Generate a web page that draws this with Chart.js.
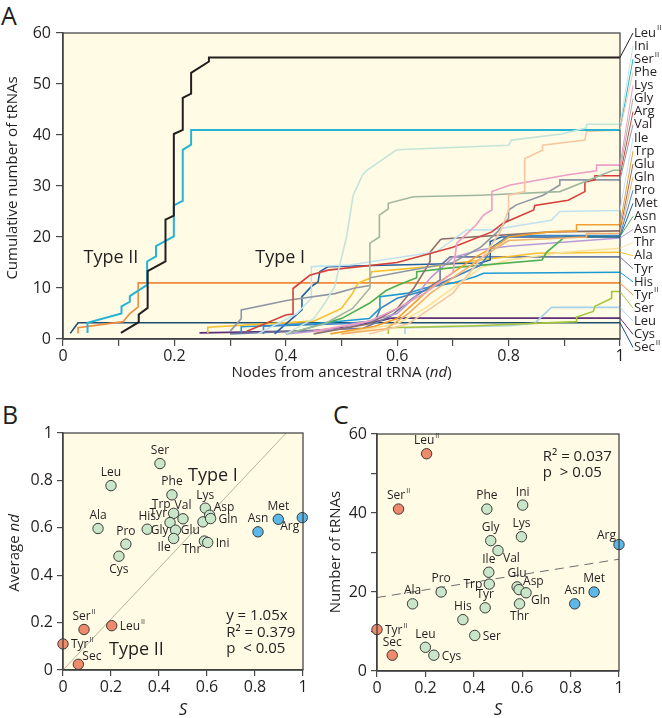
<!DOCTYPE html>
<html>
<head>
<meta charset="utf-8">
<script src="https://cdn.jsdelivr.net/npm/chart.js@4.4.1/dist/chart.umd.min.js"></script>
<style>
  body { margin: 0; background: #fff; width: 662px; height: 718px; position: relative; overflow: hidden; font-family: "Open Sans", sans-serif; }
  canvas { position: absolute; }
  .letter { position: absolute; font-size: 25px; color: #231f20; line-height: 1; }
</style>
</head>
<body>
<div class="letter" style="left:1px;top:3px">A</div>
<div class="letter" style="left:2px;top:402px">B</div>
<div class="letter" style="left:333px;top:402px">C</div>
<canvas id="chartA" width="662" height="385" style="left:0;top:0;width:662px;height:385px"></canvas>
<canvas id="chartB" width="320" height="333" style="left:0;top:385px;width:320px;height:333px"></canvas>
<canvas id="chartC" width="342" height="333" style="left:320px;top:385px;width:342px;height:333px"></canvas>
<script>
// ---- Panel A: cumulative tRNAs vs nodes from ancestral tRNA (nd) ----
const labelsA = ["Leu^II", "Ini", "Ser^II", "Phe", "Lys", "Gly", "Arg", "Val", "Ile", "Trp", "Glu", "Gln", "Pro",
  "Met", "Asn", "Asn", "Thr", "Ala", "Tyr", "His", "Tyr^II", "Ser", "Leu", "Cys", "Sec^II"];

const leuII = [[0.104,1.2],[0.136,3.3],[0.136,4.8],[0.152,6.1],[0.152,13.3],[0.184,15.2],[0.184,23.4],[0.199,24.2],[0.199,40.2],[0.215,41],[0.215,47.3],[0.23,48.1],[0.23,52.2],[0.262,54.4],[0.262,55.2],[1,55.2]];
const ini = [[0.4,1],[0.45,4],[0.47,7],[0.488,10.3],[0.494,13.2],[0.509,20],[0.521,28.2],[0.538,32.2],[0.545,33],[0.599,37.1],[0.8,38],[0.805,39],[0.895,40.2],[0.94,41.4],[0.94,42.1],[1,42.1]];
const serII = [[0.044,1.2],[0.044,3.2],[0.105,5],[0.105,6.4],[0.12,7.3],[0.12,8.4],[0.151,10.6],[0.151,15.2],[0.167,16.2],[0.167,18.2],[0.199,20.1],[0.199,26.2],[0.215,27.1],[0.215,37.1],[0.23,38.1],[0.23,41],[1,41]];
const phe = [[0.55,1],[0.62,3],[0.66,6],[0.7,9],[0.73,13],[0.76,17],[0.785,21],[0.8,25.3],[0.8,28.2],[0.829,28.9],[0.829,35.4],[0.861,37],[0.861,38],[0.937,39],[0.94,40.7],[1,41]];
const lys = [[0.45,1.5],[0.55,3.5],[0.6,6],[0.65,9],[0.7,13],[0.707,18.8],[0.742,22.4],[0.755,24.3],[0.77,25.3],[0.77,28.9],[0.803,30.2],[0.907,32.2],[0.958,33],[0.958,34.1],[1,34.1]];
const gly = [[0.4,1],[0.47,3],[0.52,6],[0.551,10],[0.551,18.8],[0.568,20],[0.568,24.3],[0.584,25.5],[0.584,26.6],[0.629,27.9],[0.749,28.2],[0.892,28.9],[0.988,33.1],[1,33.1]];
const arg = [[0.33,1.5],[0.4,4.7],[0.413,4.9],[0.413,9.9],[0.443,12.5],[0.476,13.5],[0.6,15],[0.7,18],[0.77,21],[0.79,22.7],[0.845,25.3],[0.847,26.2],[0.907,27.2],[0.937,28.9],[0.937,30.8],[0.955,31.2],[0.955,32],[1,32]];
const val = [[0.3,1.5],[0.32,4],[0.32,5.7],[0.404,7.6],[0.488,8.9],[0.524,10],[0.551,10.5],[0.551,12],[0.6,13],[0.7,15],[0.75,18],[0.78,21],[0.8,23.7],[0.8,25.3],[0.814,26.3],[0.862,28.2],[0.892,30.2],[0.892,31.2],[1,31.2]];
const ile = [[0.35,1],[0.42,5],[0.446,8],[0.446,14.2],[0.515,14.5],[0.67,17.1],[0.725,21.4],[0.77,21.4],[0.877,23.3],[0.892,25],[1,25.2]];
const trp = [[0.48,1],[0.56,2.5],[0.6,4],[0.63,7],[0.66,10],[0.7,13],[0.74,16],[0.785,18.8],[0.8,20],[0.872,21],[0.922,21.2],[0.922,22.4],[1,22.4]];
const glu = [[0.45,1],[0.55,3],[0.6,6],[0.63,10],[0.65,13.5],[0.659,15.2],[0.659,17],[0.677,19.4],[0.68,19.6],[0.877,21],[1,21.2]];
const gln = [[0.5,1],[0.58,2],[0.62,5],[0.66,9],[0.7,12],[0.74,15],[0.78,18],[0.8,19.3],[0.94,20],[0.94,20.7],[1,20.7]];
const pro = [[0.36,1],[0.36,2.5],[0.5,3],[0.56,3.5],[0.57,6],[0.6,8],[0.65,9.5],[0.7,12],[0.75,14.5],[0.76,16],[0.77,18],[0.79,19.5],[0.8,20.3],[1,20.3]];
const met = [[0.38,1],[0.429,5.7],[0.429,8.3],[0.446,10.3],[0.458,11.2],[0.461,13.2],[0.476,14.2],[0.52,14.3],[0.749,14.9],[0.767,15.5],[0.767,19.1],[0.787,20],[1,20]];
const asn1 = [[0.42,1.5],[0.5,4],[0.55,7],[0.58,9.5],[0.6,10.5],[0.635,12],[0.635,13.2],[0.7,14],[0.86,15.5],[0.868,17],[0.892,19.2],[0.9,20],[1,20.1]];
const asn2 = [[0.4,1],[0.5,2],[0.6,5],[0.63,8],[0.66,12],[0.7,16],[0.75,17.5],[0.8,18.2],[1,19.8]];
const thr = [[0.5,1],[0.6,3],[0.65,6],[0.7,10],[0.75,14],[0.8,15.5],[0.9,17],[1,17.8]];
const ala = [[0.26,1.2],[0.26,2.3],[0.45,3.5],[0.5,6],[0.52,9],[0.53,11],[0.551,11.9],[0.554,13.2],[0.66,14.2],[0.749,15.5],[0.85,16.8],[1,17]];
const tyr = [[0.3,1],[0.539,2.1],[0.587,4.4],[0.628,8],[0.677,11.6],[0.677,14.4],[0.695,16.1],[1,16.1]];
const his = [[0.32,1.2],[0.32,2.4],[0.45,3],[0.55,4],[0.569,6],[0.569,8.3],[0.62,9],[0.65,10],[0.7,11],[0.74,12.2],[0.755,12.9],[1,13.1]];
const tyrII = [[0.027,1.1],[0.027,2.2],[0.108,3.4],[0.12,5],[0.135,6.3],[0.135,11],[1,11]];
const ser = [[0.584,1],[0.584,2.2],[0.74,2.6],[0.922,3.4],[0.922,4.3],[0.952,5.4],[0.955,6.4],[0.985,8],[0.985,9.3],[1,9.3]];
const leu = [[0.614,1],[0.614,2.2],[0.8,2.6],[0.847,3.1],[0.877,6.2],[1,6.2]];
const cys = [[0.245,1.2],[0.45,1.6],[0.515,2.4],[0.575,3.7],[0.59,4.1],[1,4.1]];
const secII = [[0.013,1.1],[0.027,3.2],[1,3.2]];

const seriesA = [leuII, ini, serII, phe, lys, gly, arg, val, ile, trp, glu, gln, pro, met, asn1, asn2, thr, ala, tyr, his, tyrII, ser, leu, cys, secII];
const colorsA = ["#231f20", "#c3e5d9", "#27b4d4", "#f5c8a2", "#ec9ec4", "#a0b79f", "#d6403a", "#8e98a5", "#c2e2f0", "#f0a030",
  "#8c6e6e", "#f3b06a", "#3d86c8", "#245f9e", "#4caf50", "#b99ad6", "#f9e39a", "#f6c02e", "#6b78a0", "#1c9ad6",
  "#ef8b3a", "#a5c63b", "#a9d0ea", "#5e2f78", "#1f4e6e"];

// ---- Panels B and C: per amino acid ----
const namesBC = ["Ser", "Leu", "Phe", "Lys", "Trp", "Val", "Tyr", "Gly", "Ile", "His", "Ala", "Pro", "Cys", "Glu", "Asp", "Gln",
  "Thr", "Ini", "Asn", "Met", "Arg", "Ser^II", "Leu^II", "Tyr^II", "Sec"];
const groupBC = ["I","I","I","I","I","I","I","I","I","I","I","I","I","I","I","I","I","I","M","M","M","II","II","II","II"];
const sB = [0.404, 0.2, 0.454, 0.593, 0.461, 0.5, 0.446, 0.469, 0.461, 0.351, 0.146, 0.262, 0.233, 0.583, 0.611, 0.615,
  0.589, 0.603, 0.8125, 0.897, 0.997, 0.0875, 0.203, 0, 0.064];
const ndB = [0.871, 0.778, 0.739, 0.683, 0.661, 0.638, 0.622, 0.59, 0.555, 0.594, 0.597, 0.531, 0.48, 0.625, 0.653, 0.639,
  0.544, 0.538, 0.583, 0.636, 0.643, 0.171, 0.187, 0.11, 0.024];
const sC = [0.404, 0.2, 0.454, 0.597, 0.464, 0.5, 0.447, 0.47, 0.462, 0.355, 0.147, 0.265, 0.235, 0.579, 0.587, 0.616,
  0.589, 0.602, 0.817, 0.897, 1.0, 0.089, 0.205, 0, 0.063];
const countC = [9, 6, 41, 34, 22, 30.5, 16, 33, 25, 13, 17, 20, 4, 21.3, 20.6, 19.8, 17, 42, 17, 20, 32, 41, 55, 10.5, 4];
const lineB = [[0, 0], [0.93, 1]];
const lineC = [[0, 18.6], [1, 28.3]];

// label side for each point (n, s, e, w, ne, nw, se, sw)
const sideB = ["n","n","n","n","nw","n","nw","w","sw","n","n","n","s","sw","ne","e","sw","e","n","n","sw","n","e","e","ne"];
const sideC = ["e","n","n","n","w","se","n","n","n","n","n","n","e","n","ne","se","s","n","n","n","nw","n","n","e","n"];
const groupColors = { I: "#c9e6c8", M: "#5bb8e8", II: "#ef8a6c" };

const INK = "#231f20";
const FONT = '"Open Sans", sans-serif';
const PLOT_BG = "#fffbe5";
Chart.defaults.font.family = FONT;
Chart.defaults.color = INK;

const fmt = v => String(Math.round(v * 10) / 10);

function drawLabel(ctx, name, x, y, align, size) {
  const [base, sup] = name.split("^");
  ctx.font = size + "px " + FONT;
  const wb = ctx.measureText(base).width;
  let ws = 0;
  if (sup) { ctx.font = Math.round(size * 0.62) + "px " + FONT; ws = ctx.measureText(sup).width + 1; }
  const w = wb + ws;
  let x0 = align === "left" ? x : align === "right" ? x - w : x - w / 2;
  ctx.textAlign = "left";
  ctx.textBaseline = "middle";
  ctx.fillStyle = INK;
  ctx.font = size + "px " + FONT;
  ctx.fillText(base, x0, y);
  if (sup) {
    ctx.font = Math.round(size * 0.62) + "px " + FONT;
    ctx.fillText(sup, x0 + wb + 1, y - size * 0.38);
  }
}

function richText(ctx, parts, x, y, rot, size) {
  ctx.save();
  ctx.translate(x, y);
  ctx.rotate(rot);
  const fonts = parts.map(p => (p[1] ? "italic " : "") + size + "px " + FONT);
  let w = 0;
  parts.forEach((p, i) => { ctx.font = fonts[i]; w += ctx.measureText(p[0]).width; });
  let cx = -w / 2;
  ctx.textAlign = "left";
  ctx.textBaseline = "middle";
  ctx.fillStyle = INK;
  parts.forEach((p, i) => { ctx.font = fonts[i]; ctx.fillText(p[0], cx, 0); cx += ctx.measureText(p[0]).width; });
  ctx.restore();
}

function plainText(ctx, text, x, y, size, align) {
  ctx.font = size + "px " + FONT;
  ctx.textAlign = align || "center";
  ctx.textBaseline = "middle";
  ctx.fillStyle = INK;
  ctx.fillText(text, x, y);
}

const framePlugin = {
  id: "frame",
  beforeDraw(chart) {
    const a = chart.chartArea, ctx = chart.ctx;
    ctx.save();
    ctx.fillStyle = PLOT_BG;
    ctx.fillRect(a.left, a.top, a.right - a.left, a.bottom - a.top);
    ctx.restore();
  },
  afterDraw(chart) {
    const a = chart.chartArea, ctx = chart.ctx;
    ctx.save();
    ctx.strokeStyle = "#3a3a3a";
    ctx.lineWidth = 1.2;
    ctx.strokeRect(a.left, a.top, a.right - a.left, a.bottom - a.top);
    ctx.restore();
  }
};

function axisStyle(tickLen) {
  return {
    grid: { drawOnChartArea: false, drawTicks: true, tickLength: tickLen, color: "#4a4a4a", lineWidth: 1.2 },
    border: { color: "#4a4a4a", width: 1.4 }
  };
}

// ---------- Chart A ----------
const datasetsA = seriesA.map((pts, i) => ({
  label: labelsA[i],
  data: pts.map(p => ({ x: p[0], y: p[1] })),
  showLine: true,
  borderColor: colorsA[i],
  borderWidth: (i === 0 || i === 2) ? 2 : 1.6,
  pointRadius: 0,
  tension: 0,
  fill: false
}));

const annotateA = {
  id: "annotateA",
  afterDraw(chart) {
    const ctx = chart.ctx, a = chart.chartArea;
    const xs = chart.scales.x, ys = chart.scales.y;
    ctx.save();
    // connectors + labels on the right
    const gap = 13.1;
    seriesA.forEach((pts, i) => {
      const py = ys.getPixelForValue(pts[pts.length - 1][1]);
      const ly = a.top + i * gap;
      ctx.strokeStyle = colorsA[i];
      ctx.lineWidth = 1;
      ctx.beginPath();
      ctx.moveTo(a.right, py);
      ctx.lineTo(a.right + 13, ly);
      ctx.stroke();
      drawLabel(ctx, labelsA[i], a.right + 14, ly, "left", 13);
    });
    plainText(ctx, "Type II", xs.getPixelForValue(0.086), ys.getPixelForValue(15.9), 18);
    plainText(ctx, "Type I", xs.getPixelForValue(0.39), ys.getPixelForValue(15.9), 18);
    richText(ctx, [["Nodes from ancestral tRNA (", 0], ["nd", 1], [")", 0]], (a.left + a.right) / 2, 373, 0, 15);
    richText(ctx, [["Cumulative number of tRNAs", 0]], 13, 178, -Math.PI / 2, 15);
    ctx.restore();
  }
};

new Chart(document.getElementById("chartA"), {
  type: "scatter",
  data: { datasets: datasetsA },
  options: {
    responsive: false,
    animation: false,
    layout: { padding: { top: 33, right: 42, left: 0, bottom: 0 } },
    plugins: { legend: { display: false }, tooltip: { enabled: false } },
    scales: {
      x: {
        type: "linear", min: 0, max: 1,
        ...axisStyle(7),
        afterFit: s => { s.height = 46; },
        ticks: { stepSize: 0.1, autoSkip: false, maxRotation: 0, padding: 1, font: { size: 16 },
          callback: v => (Math.round(v * 10) % 2 === 0 ? fmt(v) : "") }
      },
      y: {
        type: "linear", min: 0, max: 60,
        ...axisStyle(7),
        afterFit: s => { s.width = 63; },
        ticks: { stepSize: 10, padding: 5, font: { size: 16 } }
      }
    }
  },
  plugins: [framePlugin, annotateA]
});

// ---------- helpers for B and C ----------
function pointLabels(chart, names, sides) {
  const ctx = chart.ctx;
  const meta = chart.getDatasetMeta(0);
  ctx.save();
  meta.data.forEach((el, i) => {
    const x = el.x, y = el.y, s = sides[i];
    const size = 12;
    if (s === "n") drawLabel(ctx, names[i], x, y - 13, "center", size);
    else if (s === "s") drawLabel(ctx, names[i], x, y + 13, "center", size);
    else if (s === "e") drawLabel(ctx, names[i], x + 8, y + 1, "left", size);
    else if (s === "w") drawLabel(ctx, names[i], x - 7, y, "right", size);
    else if (s === "ne") drawLabel(ctx, names[i], x + 4, y - 8, "left", size);
    else if (s === "nw") drawLabel(ctx, names[i], x - 3, y - 9, "right", size);
    else if (s === "se") drawLabel(ctx, names[i], x + 5, y + 8, "left", size);
    else if (s === "sw") drawLabel(ctx, names[i], x - 3, y + 9, "right", size);
  });
  ctx.restore();
}

function pointDataset(xs, ys) {
  return {
    data: xs.map((x, i) => ({ x, y: ys[i] })),
    backgroundColor: groupBC.map(g => groupColors[g]),
    borderColor: "#3a3a3a",
    borderWidth: 1,
    pointRadius: 5.2,
    clip: false
  };
}

// ---------- Chart B ----------
const annotateB = {
  id: "annotateB",
  afterDraw(chart) {
    const ctx = chart.ctx, a = chart.chartArea;
    const xs = chart.scales.x, ys = chart.scales.y;
    pointLabels(chart, namesBC, sideB);
    ctx.save();
    plainText(ctx, "Type I", xs.getPixelForValue(0.625), ys.getPixelForValue(0.82), 18);
    plainText(ctx, "Type II", xs.getPixelForValue(0.306), ys.getPixelForValue(0.084), 18);
    plainText(ctx, "y = 1.05x", xs.getPixelForValue(0.68), ys.getPixelForValue(0.229), 15, "left");
    plainText(ctx, "R² = 0.379", xs.getPixelForValue(0.68), ys.getPixelForValue(0.157), 15, "left");
    plainText(ctx, "p  < 0.05", xs.getPixelForValue(0.68), ys.getPixelForValue(0.09), 15, "left");
    richText(ctx, [["S", 1]], (a.left + a.right) / 2, 325, 0, 17);
    richText(ctx, [["Average ", 0], ["nd", 1]], 15, 168, -Math.PI / 2, 15);
    ctx.restore();
  }
};

new Chart(document.getElementById("chartB"), {
  type: "scatter",
  data: {
    datasets: [
      pointDataset(sB, ndB),
      { data: lineB.map(p => ({ x: p[0], y: p[1] })), showLine: true, borderColor: "#b9b29d", borderWidth: 1, pointRadius: 0 }
    ]
  },
  options: {
    responsive: false,
    animation: false,
    layout: { padding: { top: 48, right: 17, left: 0, bottom: 0 } },
    plugins: { legend: { display: false }, tooltip: { enabled: false } },
    scales: {
      x: {
        type: "linear", min: 0, max: 1,
        ...axisStyle(6),
        afterFit: s => { s.height = 48; },
        ticks: { stepSize: 0.2, autoSkip: false, maxRotation: 0, padding: 2, font: { size: 16 }, callback: v => fmt(v) }
      },
      y: {
        type: "linear", min: 0, max: 1,
        ...axisStyle(6),
        afterFit: s => { s.width = 63; },
        ticks: { stepSize: 0.2, padding: 4, font: { size: 16 }, callback: v => fmt(v) }
      }
    }
  },
  plugins: [framePlugin, annotateB]
});

// ---------- Chart C ----------
const annotateC = {
  id: "annotateC",
  afterDraw(chart) {
    const ctx = chart.ctx, a = chart.chartArea;
    const xs = chart.scales.x, ys = chart.scales.y;
    pointLabels(chart, namesBC, sideC);
    ctx.save();
    plainText(ctx, "R² = 0.037", xs.getPixelForValue(0.685), ys.getPixelForValue(54.3), 15, "left");
    plainText(ctx, "p  > 0.05", xs.getPixelForValue(0.685), ys.getPixelForValue(50.2), 15, "left");
    richText(ctx, [["S", 1]], (a.left + a.right) / 2, 325, 0, 17);
    richText(ctx, [["Number of tRNAs", 0]], 16, 167, -Math.PI / 2, 15);
    ctx.restore();
  }
};

new Chart(document.getElementById("chartC"), {
  type: "scatter",
  data: {
    datasets: [
      pointDataset(sC, countC),
      { data: lineC.map(p => ({ x: p[0], y: p[1] })), showLine: true, borderColor: "#6e6e6e", borderWidth: 1,
        borderDash: [9, 6], pointRadius: 0 }
    ]
  },
  options: {
    responsive: false,
    animation: false,
    layout: { padding: { top: 49, right: 43, left: 0, bottom: 0 } },
    plugins: { legend: { display: false }, tooltip: { enabled: false } },
    scales: {
      x: {
        type: "linear", min: 0, max: 1,
        ...axisStyle(6),
        afterFit: s => { s.height = 47; },
        ticks: { stepSize: 0.2, autoSkip: false, maxRotation: 0, padding: 2, font: { size: 16 }, callback: v => fmt(v) }
      },
      y: {
        type: "linear", min: 0, max: 60,
        ...axisStyle(6),
        afterFit: s => { s.width = 57; },
        ticks: { stepSize: 10, padding: 4, font: { size: 16 }, callback: v => (v % 20 === 0 ? String(v) : "") }
      }
    }
  },
  plugins: [framePlugin, annotateC]
});
</script>
</body>
</html>
